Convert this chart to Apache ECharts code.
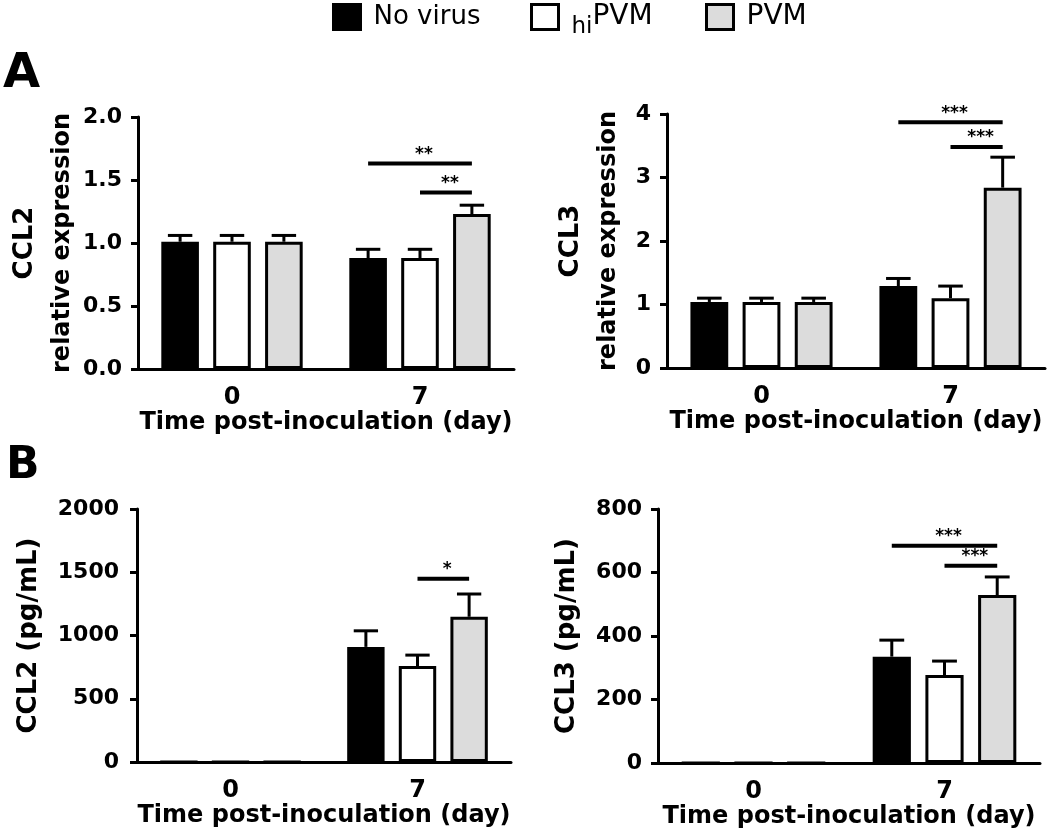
<!DOCTYPE html>
<html>
<head>
<meta charset="utf-8">
<script src="https://cdn.jsdelivr.net/npm/echarts@6/dist/echarts.min.js"></script>
<style>
html,body{margin:0;padding:0;background:#fff;}
#chart{width:1050px;height:832px;}
</style>
</head>
<body>
<div id="chart"></div>
<script>
// ---------- data ----------
const categories = ['0', '7'];
const seriesNames = ['No virus', 'hiPVM', 'PVM'];
const seriesColors = ['#000000', '#ffffff', '#dcdcdc'];

// Panel A, CCL2 relative expression (per series: [day0, day7])
const ccl2RelNoVirus = [1.01, 0.88];
const ccl2RelHiPVM   = [1.01, 0.88];
const ccl2RelPVM     = [1.01, 1.23];
const ccl2RelErrNoVirus = [0.05, 0.07];
const ccl2RelErrHiPVM   = [0.05, 0.07];
const ccl2RelErrPVM     = [0.05, 0.07];

// Panel A, CCL3 relative expression
const ccl3RelNoVirus = [1.04, 1.29];
const ccl3RelHiPVM   = [1.04, 1.10];
const ccl3RelPVM     = [1.04, 2.84];
const ccl3RelErrNoVirus = [0.06, 0.12];
const ccl3RelErrHiPVM   = [0.06, 0.19];
const ccl3RelErrPVM     = [0.06, 0.48];

// Panel B, CCL2 (pg/mL)
const ccl2ConcNoVirus = [0, 910];
const ccl2ConcHiPVM   = [0, 758];
const ccl2ConcPVM     = [0, 1148];
const ccl2ConcErrNoVirus = [0, 127];
const ccl2ConcErrHiPVM   = [0, 87];
const ccl2ConcErrPVM     = [0, 180];

// Panel B, CCL3 (pg/mL)
const ccl3ConcNoVirus = [0, 335];
const ccl3ConcHiPVM   = [0, 277];
const ccl3ConcPVM     = [0, 529];
const ccl3ConcErrNoVirus = [0, 52];
const ccl3ConcErrHiPVM   = [0, 44];
const ccl3ConcErrPVM     = [0, 57];

// significance brackets: [category index, from series, to series, y value]
const ccl2RelSig  = [[1, 0, 2, 1.63], [1, 1, 2, 1.40]];
const ccl2RelSigLabels = ['**', '**'];
const ccl3RelSig  = [[1, 0, 2, 3.87], [1, 1, 2, 3.48]];
const ccl3RelSigLabels = ['***', '***'];
const ccl2ConcSig = [[1, 1, 2, 1448]];
const ccl2ConcSigLabels = ['*'];
const ccl3ConcSig = [[1, 0, 2, 684], [1, 1, 2, 621]];
const ccl3ConcSigLabels = ['***', '***'];

// y axis ticks
const ccl2RelTicks  = {min: 0, max: 2.0, interval: 0.5, decimals: 1};
const ccl3RelTicks  = {min: 0, max: 4, interval: 1, decimals: 0};
const ccl2ConcTicks = {min: 0, max: 2000, interval: 500, decimals: 0};
const ccl3ConcTicks = {min: 0, max: 800, interval: 200, decimals: 0};

// ---------- build ----------
const FONT = 'DejaVu Sans';
const BAR_W = 0.2, BAR_GAP = 0.38, CAP = 0.65;

const panels = [
  {means: [ccl2RelNoVirus, ccl2RelHiPVM, ccl2RelPVM], errs: [ccl2RelErrNoVirus, ccl2RelErrHiPVM, ccl2RelErrPVM],
   sig: ccl2RelSig, sigLabels: ccl2RelSigLabels, ticks: ccl2RelTicks,
   name: '{a|CCL2}\n{b|relative expression}', nameGap: 57, labelMargin: 16,
   grid: {left: 138, top: 117, width: 376, height: 252}},
  {means: [ccl3RelNoVirus, ccl3RelHiPVM, ccl3RelPVM], errs: [ccl3RelErrNoVirus, ccl3RelErrHiPVM, ccl3RelErrPVM],
   sig: ccl3RelSig, sigLabels: ccl3RelSigLabels, ticks: ccl3RelTicks,
   name: '{a|CCL3}\n{b|relative expression}', nameGap: 40, labelMargin: 16,
   grid: {left: 667, top: 114, width: 378, height: 254}},
  {means: [ccl2ConcNoVirus, ccl2ConcHiPVM, ccl2ConcPVM], errs: [ccl2ConcErrNoVirus, ccl2ConcErrHiPVM, ccl2ConcErrPVM],
   sig: ccl2ConcSig, sigLabels: ccl2ConcSigLabels, ticks: ccl2ConcTicks,
   name: '{a|CCL2 (pg/mL)}', nameGap: 89, labelMargin: 18,
   grid: {left: 137, top: 509, width: 374, height: 253}},
  {means: [ccl3ConcNoVirus, ccl3ConcHiPVM, ccl3ConcPVM], errs: [ccl3ConcErrNoVirus, ccl3ConcErrHiPVM, ccl3ConcErrPVM],
   sig: ccl3ConcSig, sigLabels: ccl3ConcSigLabels, ticks: ccl3ConcTicks,
   name: '{a|CCL3 (pg/mL)}', nameGap: 72, labelMargin: 16,
   grid: {left: 658, top: 509, width: 382, height: 254}}
];

const grids = [], xAxes = [], yAxes = [], series = [];

panels.forEach((p, gi) => {
  grids.push(Object.assign({containLabel: false}, p.grid));
  xAxes.push({
    type: 'category', gridIndex: gi, data: categories,
    axisLine: {lineStyle: {color: '#000', width: 3}},
    axisTick: {alignWithLabel: true, length: 7, lineStyle: {color: '#000', width: 3}},
    axisLabel: {color: '#000', fontFamily: FONT, fontWeight: 'bold', fontSize: 24, margin: 17},
    name: 'Time post-inoculation (day)', nameLocation: 'middle', nameGap: 38,
    nameTextStyle: {color: '#000', fontFamily: FONT, fontWeight: 'bold', fontSize: 24}
  });
  const t = p.ticks;
  yAxes.push({
    type: 'value', gridIndex: gi, min: t.min, max: t.max, interval: t.interval,
    axisLine: {show: true, lineStyle: {color: '#000', width: 3}},
    axisTick: {show: true, length: 7, lineStyle: {color: '#000', width: 3}},
    splitLine: {show: false},
    axisLabel: {color: '#000', fontFamily: FONT, fontWeight: 'bold', fontSize: 22, margin: p.labelMargin,
      formatter: v => v.toFixed(t.decimals)},
    name: p.name, nameLocation: 'middle', nameGap: p.nameGap,
    nameTextStyle: {color: '#000', fontFamily: FONT, fontWeight: 'bold',
      rich: {a: {fontSize: 26, fontFamily: FONT, fontWeight: 'bold', lineHeight: 37, color: '#000'},
             b: {fontSize: 24, fontFamily: FONT, fontWeight: 'bold', lineHeight: 37, color: '#000'}}}
  });
  // bars
  for (let s = 0; s < 3; s++) {
    series.push({
      type: 'bar', name: seriesNames[s], xAxisIndex: gi, yAxisIndex: gi,
      data: p.means[s], barWidth: (BAR_W * 100) + '%', barGap: (BAR_GAP * 100) + '%',
      itemStyle: {color: seriesColors[s], borderColor: '#000', borderWidth: 3},
      emphasis: {disabled: true}, animation: false
    });
  }
  // error bars
  const errData = [];
  for (let s = 0; s < 3; s++) {
    for (let c = 0; c < categories.length; c++) {
      errData.push([c, s, p.means[s][c], p.errs[s][c]]);
    }
  }
  series.push({
    type: 'custom', name: 'err' + gi, xAxisIndex: gi, yAxisIndex: gi, z: 3, animation: false,
    data: errData, encode: {x: 0, y: 2},
    renderItem: (params, api) => {
      const c = api.value(0), s = api.value(1), m = api.value(2), e = api.value(3);
      if (!(e > 0)) return null;
      const band = api.size([1, 0])[0];
      const w = band * BAR_W;
      const off = (s - 1) * w * (1 + BAR_GAP);
      const p0 = api.coord([c, m]), p1 = api.coord([c, m + e]);
      const x = p0[0] + off, half = w * CAP / 2;
      const st = {stroke: '#000', lineWidth: 3};
      return {type: 'group', children: [
        {type: 'line', shape: {x1: x, y1: p0[1], x2: x, y2: p1[1]}, style: st},
        {type: 'line', shape: {x1: x - half, y1: p1[1], x2: x + half, y2: p1[1]}, style: st}
      ]};
    }
  });
  // significance brackets
  series.push({
    type: 'custom', name: 'sig' + gi, xAxisIndex: gi, yAxisIndex: gi, z: 4, animation: false,
    data: p.sig, encode: {x: 0, y: 3},
    renderItem: (params, api) => {
      const c = api.value(0), a = api.value(1), b = api.value(2), y = api.value(3);
      const band = api.size([1, 0])[0];
      const w = band * BAR_W, step = w * (1 + BAR_GAP);
      const pt = api.coord([c, y]);
      const x1 = pt[0] + (a - 1) * step, x2 = pt[0] + (b - 1) * step;
      return {type: 'group', children: [
        {type: 'line', shape: {x1: x1, y1: pt[1], x2: x2, y2: pt[1]}, style: {stroke: '#000', lineWidth: 4}},
        {type: 'text', style: {text: p.sigLabels[params.dataIndex], x: (x1 + x2) / 2 + 4, y: pt[1] - 9,
          align: 'center', verticalAlign: 'middle', fill: '#000', font: 'bold 17px "DejaVu Sans"'}}
      ]};
    }
  });
});

const legendRich = {
  s: {width: 8},
  t: {fontSize: 26, fontFamily: FONT, color: '#000'},
  u: {fontSize: 28, fontFamily: FONT, color: '#000'},
  sub: {fontSize: 23, fontFamily: FONT, color: '#000', padding: [21, 0, 0, 0]}
};
function legendFmt(name) {
  if (name === 'hiPVM') return '{s|}{sub|hi}{u|PVM}';
  if (name === 'PVM') return '{s|}{u|PVM}';
  return '{s|}{t|' + name + '}';
}
const legendLefts = [332, 530, 705];
const legends = seriesNames.map((n, i) => ({
  data: [n], left: legendLefts[i], top: 3, padding: 0,
  icon: 'rect', itemWidth: 27, itemHeight: 25,
  itemStyle: {borderColor: '#000', borderWidth: 3},
  selectedMode: false, formatter: legendFmt,
  textStyle: {fontFamily: FONT, fontSize: 26, color: '#000', rich: legendRich}
}));

const option = {
  backgroundColor: '#ffffff',
  animation: false,
  title: [
    {text: 'A', left: 3, top: 51, padding: 0, textStyle: {fontFamily: FONT, fontWeight: 'bold', fontSize: 48, color: '#000'}},
    {text: 'B', left: 6, top: 445, padding: 0, textStyle: {fontFamily: FONT, fontWeight: 'bold', fontSize: 44, color: '#000'}}
  ],
  legend: legends,
  grid: grids,
  xAxis: xAxes,
  yAxis: yAxes,
  series: series
};

const chart = echarts.init(document.getElementById('chart'), null, {renderer: 'canvas'});
chart.setOption(option);
</script>
</body>
</html>
